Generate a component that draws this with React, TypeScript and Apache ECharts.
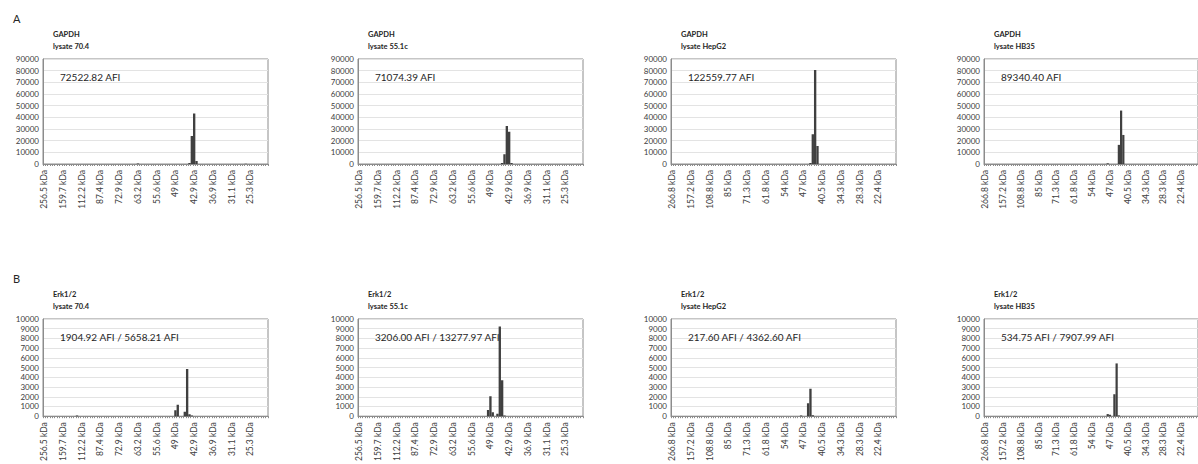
import React, { useEffect, useRef } from "react";
import * as echarts from "echarts";

// Molecular-weight tick labels shown under each electropherogram
const kdaLabels704: string[] = ["256.5 kDa", "159.7 kDa", "112.2 kDa", "87.4 kDa", "72.9 kDa", "63.2 kDa", "55.6 kDa", "49 kDa", "42.9 kDa", "36.9 kDa", "31.1 kDa", "25.3 kDa"];
const kdaLabelsHep: string[] = ["266.8 kDa", "157.2 kDa", "108.8 kDa", "85 kDa", "71.3 kDa", "61.8 kDa", "54 kDa", "47 kDa", "40.5 kDa", "34.3 kDa", "28.3 kDa", "22.4 kDa"];

// Number of size bins on every x axis, and bins between labelled ticks
const BIN_COUNT = 96;
const LABEL_STEP = 8;

// Signal per size bin: [bin index, intensity]; bins not listed are zero
const gapdh704: [number, number][] = [[40, 500], [62, 800], [63, 24000], [64, 43300], [65, 2600], [86, 300]];
const gapdh551c: [number, number][] = [[61, 900], [62, 8300], [63, 32600], [64, 27700], [65, 900]];
const gapdhHepG2: [number, number][] = [[59, 800], [60, 25600], [61, 80500], [62, 15400]];
const gapdhHB35: [number, number][] = [[55, 600], [60, 16400], [61, 45800], [62, 24900]];

const erk704: [number, number][] = [[14, 60], [56, 600], [57, 1190], [60, 450], [61, 4850], [62, 200], [63, 60]];
const erk551c: [number, number][] = [[55, 650], [56, 2050], [57, 400], [59, 250], [60, 9230], [61, 3700], [62, 80]];
const erkHepG2: [number, number][] = [[55, 80], [58, 1320], [59, 2820], [60, 90]];
const erkHB35: [number, number][] = [[55, 220], [56, 150], [58, 2260], [59, 5430], [60, 80]];

// Panel captions
const targets: string[] = ["GAPDH", "Erk1/2"];
const lysates: string[] = ["lysate 70.4", "lysate 55.1c", "lysate HepG2", "lysate HB35"];
const afiGapdh: string[] = ["72522.82 AFI", "71074.39 AFI", "122559.77 AFI", "89340.40 AFI"];
const afiErk: string[] = ["1904.92 AFI / 5658.21 AFI", "3206.00 AFI / 13277.97 AFI", "217.60 AFI / 4362.60 AFI", "534.75 AFI / 7907.99 AFI"];
const rowLetters: string[] = ["A", "B"];

// y-axis ranges per row
const yMaxes: number[] = [90000, 10000];
const yIntervals: number[] = [10000, 1000];

const rowSeries = [
  [gapdh704, gapdh551c, gapdhHepG2, gapdhHB35],
  [erk704, erk551c, erkHepG2, erkHB35],
];
const rowAfi = [afiGapdh, afiErk];
const columnLabels = [kdaLabels704, kdaLabels704, kdaLabelsHep, kdaLabelsHep];

// Layout (pixels)
const PANEL_LEFTS = [43, 358, 671, 984];
const PANEL_WIDTH = 225;
const ROW_TOPS = [59, 319];
const ROW_HEIGHTS = [105, 106];

const FONT = "Lato, 'Liberation Sans', sans-serif";
const TEXT_DARK = "#262626";
const TEXT_MID = "#404040";
const BAR_COLOR = "#404040";

export default function App() {
  const ref = useRef<HTMLDivElement>(null);

  useEffect(() => {
    if (!ref.current) return;
    const chart = echarts.init(ref.current, undefined, { renderer: "svg" });

    const grids: any[] = [];
    const xAxes: any[] = [];
    const yAxes: any[] = [];
    const series: any[] = [];
    const graphics: any[] = [];

    const binNames: string[] = [];
    for (let i = 0; i < BIN_COUNT; i++) binNames.push(String(i));

    for (let r = 0; r < 2; r++) {
      graphics.push({
        type: "text",
        left: 13,
        top: ROW_TOPS[r] - 46,
        style: { text: rowLetters[r], fontSize: 11, fontFamily: FONT, fill: TEXT_DARK },
      });
      for (let c = 0; c < 4; c++) {
        const idx = r * 4 + c;
        const left = PANEL_LEFTS[c];
        const top = ROW_TOPS[r];
        const labels = columnLabels[c];
        grids.push({
          left,
          top,
          width: PANEL_WIDTH,
          height: ROW_HEIGHTS[r],
          show: true,
          borderColor: "#8c8c8c",
          borderWidth: 1,
          backgroundColor: "#ffffff",
          containLabel: false,
        });
        xAxes.push({
          type: "category",
          gridIndex: idx,
          data: binNames,
          boundaryGap: true,
          axisLine: { show: true, lineStyle: { color: "#8c8c8c", width: 1 } },
          axisTick: { show: true, interval: 0, length: 2, lineStyle: { color: "#8c8c8c" } },
          axisLabel: {
            interval: LABEL_STEP - 1,
            rotate: 90,
            margin: 6,
            fontSize: 8.5,
            fontFamily: FONT,
            color: TEXT_MID,
            formatter: (_v: string, i: number) => labels[i / LABEL_STEP] ?? "",
          },
          splitLine: { show: false },
        });
        yAxes.push({
          type: "value",
          gridIndex: idx,
          min: 0,
          max: yMaxes[r],
          interval: yIntervals[r],
          axisLine: { show: true, lineStyle: { color: "#8c8c8c" } },
          axisTick: { show: false },
          axisLabel: {
            fontSize: 8,
            fontFamily: FONT,
            color: TEXT_MID,
            margin: 4,
            formatter: (v: number) => String(v),
          },
          splitLine: { show: true, lineStyle: { color: "#e3e3e3", width: 1 } },
        });
        series.push({
          type: "bar",
          xAxisIndex: idx,
          yAxisIndex: idx,
          data: rowSeries[r][c],
          barCategoryGap: "0%",
          itemStyle: { color: BAR_COLOR },
          silent: true,
        });
        graphics.push(
          {
            type: "text",
            x: left + 10,
            y: top - 25,
            style: {
              text: targets[r],
              fontSize: 7.5,
              fontWeight: "bold",
              fontFamily: FONT,
              fill: TEXT_DARK,
              verticalAlign: "middle",
            },
          },
          {
            type: "text",
            x: left + 10,
            y: top - 13,
            style: {
              text: lysates[c],
              fontSize: 7.5,
              fontWeight: "bold",
              fontFamily: FONT,
              fill: TEXT_DARK,
              verticalAlign: "middle",
            },
          },
          {
            type: "text",
            x: left + 17,
            y: top + 18,
            z: 10,
            style: {
              text: rowAfi[r][c],
              fontSize: 10,
              fontFamily: FONT,
              fill: TEXT_DARK,
              verticalAlign: "middle",
            },
          }
        );
      }
    }

    chart.setOption({
      animation: false,
      backgroundColor: "#ffffff",
      grid: grids,
      xAxis: xAxes,
      yAxis: yAxes,
      series,
      graphic: graphics,
    });

    return () => chart.dispose();
  }, []);

  return (
    <div
      ref={ref}
      style={{ position: "fixed", left: 0, top: 0, width: 1198, height: 464, background: "#fff" }}
    />
  );
}
